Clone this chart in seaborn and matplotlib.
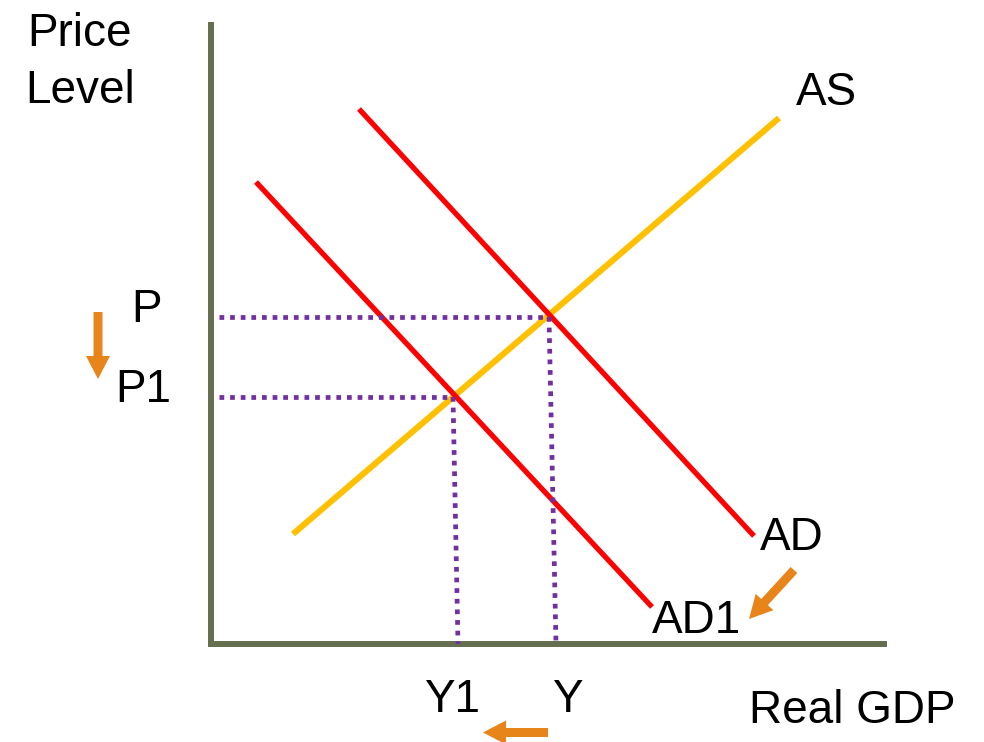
import matplotlib
matplotlib.use("Agg")
import matplotlib.pyplot as plt
import seaborn as sns
import pandas as pd

# ---- data (units: offset from the axes origin) ----
as_x = [82, 568]
as_y = [110, 526]
ad_x = [148, 543]
ad_y = [535, 108]
ad1_x = [45, 441]
ad1_y = [462, 37]

# equilibrium points (price level, output) and guide-line ends
eq_x = [338, 242]          # Y, Y1 at the intersections
eq_y = [327, 247]          # P, P1
eq_base_x = [345, 247]     # where guide lines meet the GDP axis
guide_start = 8

curve_names = ["AS", "AD", "AD1"]
price_labels = ["P", "P1"]
output_labels = ["Y", "Y1"]

sns.set_theme(style="white")
plt.rcParams["font.family"] = ["Liberation Sans", "DejaVu Sans"]

fig = plt.figure(figsize=(9.84, 7.42), dpi=100)
ax = fig.add_axes([0, 0, 1, 1])
ax.set_xlim(-211, 773)
ax.set_ylim(-98, 644)
ax.axis("off")

df = pd.concat([
    pd.DataFrame({"x": as_x, "y": as_y, "curve": "AS"}),
    pd.DataFrame({"x": ad_x, "y": ad_y, "curve": "AD"}),
    pd.DataFrame({"x": ad1_x, "y": ad1_y, "curve": "AD1"}),
])
palette = {"AS": "#FFC000", "AD": "#FF0000", "AD1": "#FF0000"}
widths = {"AS": 4.4, "AD": 3.8, "AD1": 3.8}
for name in curve_names:
    sub = df[df["curve"] == name]
    sns.lineplot(data=sub, x="x", y="y", color=palette[name], lw=widths[name],
                 ax=ax, legend=False, zorder=3, solid_capstyle="butt")

# axes lines
axis_col = "#656F50"
ax.plot([-3, 676], [0, 0], color=axis_col, lw=4.3, solid_capstyle="butt", zorder=4)
ax.plot([0, 0], [-2, 622], color=axis_col, lw=4.3, solid_capstyle="butt", zorder=4)

# dotted guides
dot = dict(color="#7030A0", lw=3.4, linestyle=(0, (1, 1.25)), dash_capstyle="butt", zorder=5)
for ex, ey, bx in zip(eq_x, eq_y, eq_base_x):
    ax.plot([guide_start, ex], [ey, ey], **dot)
    ax.plot([ex, bx], [ey, 0], **dot)

fs = 33
txt = dict(fontsize=fs, color="black", ha="center", va="baseline")
ax.text(-132, 598, "Price", **txt)
ax.text(-131, 541, "Level", **txt)
ax.text(-65, 322, price_labels[0], **txt)
ax.text(-68, 242, price_labels[1], **txt)
ax.text(356.5, -68, output_labels[0], **txt)
ax.text(241.5, -68, output_labels[1], **txt)
ax.text(641, -79, "Real GDP", **txt)
ax.text(615, 539, curve_names[0], **txt)
ax.text(581, 94, curve_names[1], **txt)
ax.text(485.5, 11, curve_names[2], **txt)

# orange shift arrows
orange = "#E8851A"
arr = dict(width=9, head_width=24, head_length=23, length_includes_head=True,
           color=orange, ec="none", zorder=6)
ax.arrow(-113, 332, 0, -67, **arr)
ax.arrow(583, 74, -45, -49, **arr)
ax.arrow(337, -88.5, -65, 0, **arr)

fig.savefig("out.png", dpi=100)
